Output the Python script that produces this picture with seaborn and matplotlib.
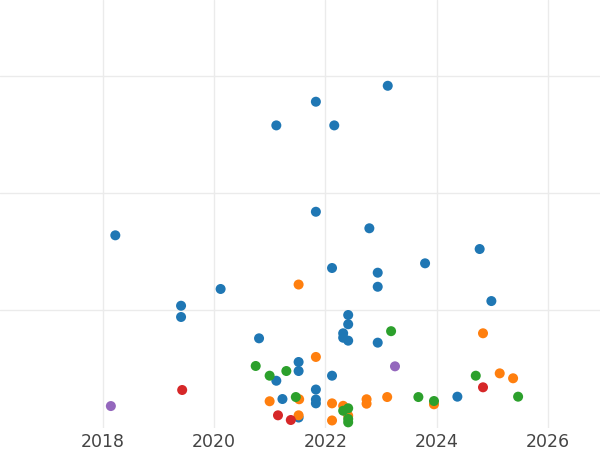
import pandas as pd
import seaborn as sns
import matplotlib.pyplot as plt

# data (decimal year, value)
blue_x = [2023.12, 2021.83, 2021.12, 2022.16, 2021.83, 2018.23, 2022.79, 2024.77, 2023.79,
          2022.12, 2022.94, 2022.94, 2020.12, 2024.98, 2019.41, 2019.41, 2022.41, 2022.41,
          2022.32, 2022.32, 2022.41, 2022.94, 2020.81, 2021.52, 2021.52, 2021.12, 2022.12,
          2021.83, 2021.83, 2021.83, 2021.23, 2024.37, 2021.52]
blue_y = [29.16, 27.80, 25.78, 25.78, 18.41, 16.40, 17.00, 15.23, 14.01,
          13.61, 13.21, 12.01, 11.82, 10.79, 10.39, 9.43, 9.60, 8.81,
          8.04, 7.66, 7.41, 7.24, 7.61, 5.59, 4.82, 3.99, 4.42,
          3.24, 2.39, 2.06, 2.43, 2.63, 0.85]

orange_x = [2021.52, 2021.83, 2024.83, 2025.13, 2025.37, 2021.00, 2021.53, 2021.52,
            2022.12, 2022.12, 2022.32, 2022.41, 2022.74, 2022.74, 2023.11, 2023.95]
orange_y = [12.20, 6.02, 8.04, 4.62, 4.20, 2.24, 2.41, 1.04,
            2.06, 0.60, 1.85, 1.01, 2.41, 2.03, 2.60, 1.98]

green_x = [2023.18, 2020.75, 2021.00, 2021.30, 2021.47, 2022.32, 2022.41, 2022.41,
           2022.41, 2023.67, 2023.95, 2024.70, 2025.46]
green_y = [8.22, 5.25, 4.42, 4.82, 2.60, 1.43, 1.64, 0.73,
           0.44, 2.60, 2.26, 4.42, 2.63]

red_x = [2019.43, 2021.15, 2021.38, 2024.83]
red_y = [3.20, 1.04, 0.64, 3.43]

purple_x = [2018.15, 2023.25]
purple_y = [1.83, 5.22]

groups = ["A", "B", "C", "D", "E"]
colors = ["#1f77b4", "#ff7f0e", "#2ca02c", "#d62728", "#9467bd"]
x_ticks = [2018, 2020, 2022, 2024, 2026]
y_ticks = [10, 20, 30]

frames = []
for g, xs, ys in zip(groups, [blue_x, orange_x, green_x, red_x, purple_x],
                     [blue_y, orange_y, green_y, red_y, purple_y]):
    frames.append(pd.DataFrame({"year": xs, "value": ys, "group": g}))
df = pd.concat(frames, ignore_index=True)

sns.set_style("whitegrid", {"grid.color": "#ebebeb", "axes.edgecolor": "white"})

fig = plt.figure(figsize=(6, 4.5), dpi=100)
ax = fig.add_axes([0, 0.05, 1, 0.95])

sns.scatterplot(data=df, x="year", y="value", hue="group", hue_order=groups,
                palette=colors, s=52, linewidth=0, alpha=1, legend=False, ax=ax)

ax.set_xlim(2016.16, 2026.93)
ax.set_ylim(0, 36.48)
ax.set_xticks(x_ticks)
ax.set_xticklabels([str(t) for t in x_ticks])
ax.set_yticks(y_ticks)
ax.set_yticklabels([])
ax.grid(True, color="#ebebeb", linewidth=1.0)
ax.tick_params(axis="x", length=0, pad=4, labelsize=12.5, labelcolor="#444444")
ax.tick_params(axis="y", length=0)
ax.set_xlabel("")
ax.set_ylabel("")
for s in ax.spines.values():
    s.set_visible(False)

fig.savefig("out.png", dpi=100)
